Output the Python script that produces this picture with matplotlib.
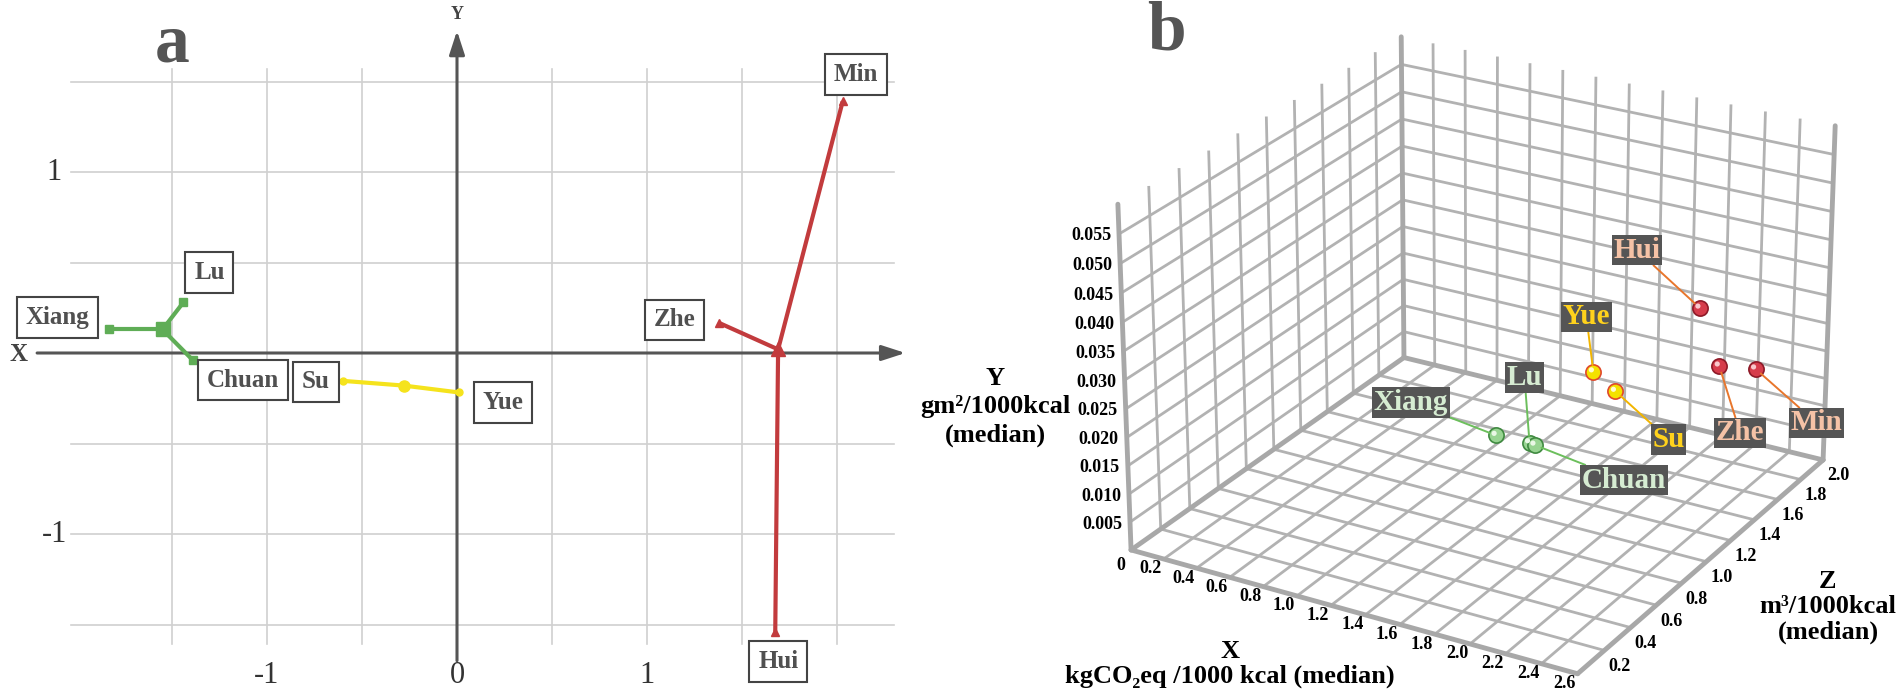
import matplotlib
matplotlib.use("Agg")
import matplotlib.pyplot as plt
import numpy as np
from mpl_toolkits.mplot3d import proj3d

plt.rcParams["font.family"] = ["Liberation Serif", "DejaVu Serif"]

W, H = 1902, 697

# ---------------- panel a data ----------------
group_colors = ["#5fad56", "#f5e31c", "#c23b3d"]
group_markers = ["s", "o", "^"]
center_x = [-1.55, -0.28, 1.69]
center_y = [0.13, -0.18, 0.02]
member_names = [["Xiang", "Lu", "Chuan"], ["Su", "Yue"], ["Zhe", "Min", "Hui"]]
member_x = [[-1.83, -1.44, -1.39], [-0.60, 0.01], [1.38, 2.03, 1.675]]
member_y = [[0.13, 0.28, -0.04], [-0.154, -0.218], [0.166, 1.39, -1.54]]
label_offsets_a = {
    "Xiang": (-52, 12), "Lu": (26, 30), "Chuan": (50, -20), "Su": (-27, -1),
    "Yue": (44, -10), "Zhe": (-45, 3), "Min": (13, 27), "Hui": (3, -30),
}
grid_x = [-1.5, -1.0, -0.5, 0.5, 1.0, 1.5, 2.0]
grid_y = [-1.5, -1.0, -0.5, 0.5, 1.0, 1.5]

# ---------------- panel b data ----------------
fp_names = ["Xiang", "Lu", "Chuan", "Yue", "Su", "Hui", "Zhe", "Min"]
carbon = [1.37, 1.53, 1.60, 1.79, 1.92, 2.12, 2.24, 2.45]          # X
land = [0.013, 0.012, 0.013, 0.024, 0.0215, 0.031, 0.0215, 0.0225]  # Y
water = [1.00, 1.05, 1.00, 1.20, 1.20, 1.60, 1.60, 1.60]            # Z
fp_group = [0, 0, 0, 1, 1, 2, 2, 2]
x_ticks = np.round(np.arange(0.2, 2.61, 0.2), 1)
z_ticks = np.round(np.arange(0.2, 2.01, 0.2), 1)
y_ticks = np.round(np.arange(0.0, 0.0551, 0.005), 3)

sphere_face = ["#98d492", "#f4e200", "#d63c4b"]
sphere_edge = ["#3f8a40", "#e0482a", "#8e1a28"]
sphere_shine = ["#eaf8e6", "#fffbd0", "#f8c8cc"]
label_text = ["#d6ecd2", "#ffd21c", "#f5c2a6"]
leader_color = ["#6cbf5c", "#f2b500", "#e8762c"]
label_offsets_b = {
    "Xiang": (-85, 33), "Lu": (-5, 65), "Chuan": (89, -35), "Yue": (-7, 55),
    "Su": (53, -48), "Hui": (-63, 58), "Zhe": (21, -67), "Min": (61, -54),
}

fig = plt.figure(figsize=(W / 100, H / 100), dpi=100)

# ================= panel a =================
ax = fig.add_axes([0, 0, 940 / W, 1])
ax.set_xlim(-457 / 190, (940 - 457) / 190)
ax.set_ylim((353 - H) / 181, 353 / 181)
ax.axis("off")

for gx in grid_x:
    ax.plot([gx, gx], [-1.61, 1.57], color="#d0d0d0", lw=1.2, zorder=1)
for gy in grid_y:
    ax.plot([-2.03, 2.3], [gy, gy], color="#d0d0d0", lw=1.2, zorder=1)

arrow = dict(arrowstyle="-|>,head_length=0.4,head_width=0.13", color="#555555",
             lw=2.2, mutation_scale=36, shrinkA=0, shrinkB=0)
ax.annotate("", xy=(2.36, 0), xytext=(-2.21, 0), arrowprops=arrow, zorder=2)
ax.annotate("", xy=(0, 1.78), xytext=(0, -1.70), arrowprops=arrow, zorder=2)
ax.text(-2.31, -0.01, "X", fontsize=18, fontweight="bold", color="#444444",
        ha="center", va="center")
ax.text(0, 1.87, "Y", fontsize=13, fontweight="bold", color="#444444",
        ha="center", va="center")

for v, s in [(1, "1"), (-1, "-1")]:
    ax.text(-2.12, v, s, fontsize=22, color="#333333", ha="center", va="center")
for v, s in [(-1, "-1"), (0, "0"), (1, "1")]:
    ax.text(v, -1.78, s, fontsize=22, color="#333333", ha="center", va="center")

for g in range(3):
    big = 10 if g != 1 else 8
    small = 6 if g != 1 else 5
    for name, mx, my in zip(member_names[g], member_x[g], member_y[g]):
        ax.plot([center_x[g], mx], [center_y[g], my], color=group_colors[g],
                lw=3.0, solid_capstyle="butt", zorder=3)
        ax.plot(mx, my, marker=group_markers[g], ms=small, color=group_colors[g],
                zorder=4)
        ax.annotate(name, xy=(mx, my), xytext=label_offsets_a[name],
                    textcoords="offset pixels", ha="center", va="center",
                    fontsize=18, fontweight="bold", color="#505050", zorder=6,
                    bbox=dict(boxstyle="square,pad=0.35", fc="white",
                              ec="#444444", lw=1.5))
    ax.plot(center_x[g], center_y[g], marker=group_markers[g], ms=big,
            color=group_colors[g], zorder=5)

fig.text(172 / W, 1 - 45 / H, "a", fontsize=50, fontweight="bold",
         color="#555555", ha="center", va="center")

# ================= panel b =================
ax3 = fig.add_axes([0.5, 0.0, 0.5, 1.0], projection="3d", computed_zorder=False)
ax3.set_proj_type("persp", focal_length=1.0)
ax3.view_init(elev=24.5, azim=-60)
ax3.set_box_aspect((1.0, 1.04, 0.735))

xmax, zmax, ymax = 2.6, 2.0, 0.06
edge = dict(color="#a8a8a8", lw=3.5, zorder=2, solid_capstyle="round")
ax3.plot([0, xmax], [0, 0], [0, 0], **edge)
ax3.plot([xmax, xmax], [0, zmax], [0, 0], **edge)
ax3.plot([0, xmax], [zmax, zmax], [0, 0], **edge)
ax3.plot([0, 0], [0, zmax], [0, 0], **edge)
for ex, ey in [(0, 0), (0, zmax), (xmax, zmax)]:
    ax3.plot([ex, ex], [ey, ey], [0, ymax], **edge)

for g in range(3):
    idx = [i for i in range(len(fp_names)) if fp_group[i] == g]
    ax3.scatter([carbon[i] for i in idx], [water[i] for i in idx],
                [land[i] for i in idx], s=120, c=sphere_face[g],
                edgecolors=sphere_edge[g], linewidths=1.2, depthshade=False,
                zorder=5)

ax3.set_xlim(0, xmax)
ax3.set_ylim(0, zmax)
ax3.set_zlim(0, ymax)
ax3.set_xticks(x_ticks)
ax3.set_yticks(z_ticks)
ax3.set_zticks(y_ticks)
ax3.set_xticklabels([])
ax3.set_yticklabels([])
ax3.set_zticklabels([])
for axis in (ax3.xaxis, ax3.yaxis, ax3.zaxis):
    axis.set_pane_color((1, 1, 1, 0))
    axis.line.set_color((0, 0, 0, 0))
    axis._axinfo["tick"]["inward_factor"] = 0
    axis._axinfo["tick"]["outward_factor"] = 0
    axis._axinfo["grid"]["color"] = "#b2b2b2"
    axis._axinfo["grid"]["linewidth"] = 2.0

# fit the box so its corners land where the reference has them
corners = [(0, 0, 0), (0, zmax, 0), (xmax, 0, 0), (xmax, zmax, 0),
           (0, 0, ymax), (0, zmax, ymax), (xmax, zmax, ymax)]
targets = np.array([(1128, 555), (1397, 360), (1576, 660), (1831, 465),
                    (1122, 198), (1397, 45), (1839, 125)], dtype=float)
fig.canvas.draw()
M = ax3.get_proj()


def project(xs, ys, zs):
    px, py, _ = proj3d.proj_transform(np.asarray(xs, float), np.asarray(ys, float),
                                      np.asarray(zs, float), M)
    return px, py


cx, cy, cz = np.array(corners, dtype=float).T
P = ax3.transData.transform(np.column_stack(project(cx, cy, cz)))
bb = ax3.bbox
c = np.array([(bb.x0 + bb.x1) / 2, (bb.y0 + bb.y1) / 2])
q = (P - c) / bb.width
T = np.column_stack([targets[:, 0], H - targets[:, 1]])
qm, Tm = q.mean(axis=0), T.mean(axis=0)
S2 = ((q - qm) * (T - Tm)).sum() / ((q - qm) ** 2).sum()
c2 = Tm - S2 * qm
ax3.set_position([(c2[0] - S2 / 2) / W, (c2[1] - S2 / 2) / H, S2 / W, S2 / H])

tick_style = dict(textcoords="offset pixels", fontsize=13, fontweight="bold",
                  va="center", annotation_clip=False)
tx, ty = project(x_ticks, np.zeros_like(x_ticks), np.zeros_like(x_ticks))
for v, a, b in zip(x_ticks, tx, ty):
    ax3.annotate(f"{v:.1f}", xy=(a, b), xytext=(-13, -10), ha="center", **tick_style)
tx, ty = project(np.full_like(z_ticks, xmax), z_ticks, np.zeros_like(z_ticks))
for v, a, b in zip(z_ticks, tx, ty):
    ax3.annotate(f"{v:.1f}", xy=(a, b), xytext=(15, -16), ha="center", **tick_style)
tx, ty = project(np.zeros_like(y_ticks), np.zeros_like(y_ticks), y_ticks)
for v, a, b in zip(y_ticks, tx, ty):
    s = "0" if v == 0 else f"{v:.3f}"
    off = (-6, -16) if v == 0 else (-8, -2)
    ax3.annotate(s, xy=(a, b), xytext=off, ha="right", **tick_style)

px, py = project(carbon, water, land)
for i, name in enumerate(fp_names):
    g = fp_group[i]
    ax3.annotate(name, xy=(px[i], py[i]), xycoords="data",
                 xytext=label_offsets_b[name], textcoords="offset pixels",
                 ha="center", va="center", fontsize=21, fontweight="bold",
                 color=label_text[g], zorder=6,
                 bbox=dict(boxstyle="square,pad=0.06", fc="#555555", ec="none"),
                 arrowprops=dict(arrowstyle="-", color=leader_color[g], lw=1.4,
                                 shrinkA=0, shrinkB=5))

# small specular highlight on each sphere
shine = fig.add_axes([0, 0, 1, 1])
shine.set_xlim(0, W)
shine.set_ylim(0, H)
shine.axis("off")
sp = ax3.transData.transform(np.column_stack([px, py]))
shine.scatter(sp[:, 0] - 2, sp[:, 1] + 2, s=14,
              c=[sphere_shine[g] for g in fp_group], edgecolors="none", zorder=7)

fig.text(995 / W, 1 - 407 / H, "Y\ngm²/1000kcal\n(median)", fontsize=19,
         fontweight="bold", ha="center", va="center", linespacing=1.3)
fig.text(1230 / W, 1 - 664 / H, "X\nkgCO₂eq /1000 kcal (median)", fontsize=19,
         fontweight="bold", ha="center", va="center", linespacing=1.05)
fig.text(1828 / W, 1 - 607 / H, "Z\nm³/1000kcal\n(median)", fontsize=19,
         fontweight="bold", ha="center", va="center", linespacing=1.15)
fig.text(1166 / W, 1 - 32 / H, "b", fontsize=50, fontweight="bold",
         color="#555555", ha="center", va="center")

fig.savefig("out.png", dpi=100, facecolor="white")
